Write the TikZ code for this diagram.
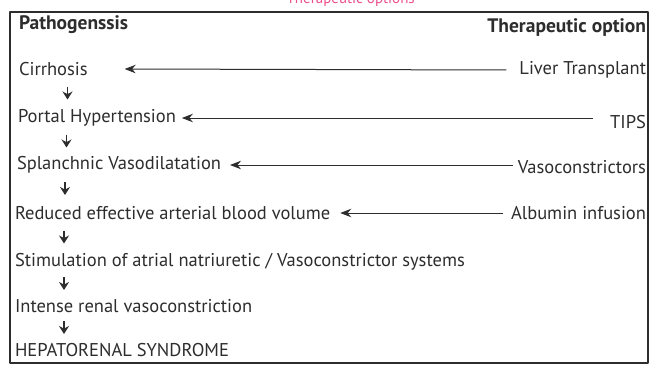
\documentclass[tikz,border=0pt]{standalone}
\usepackage{fontspec}
\setmainfont{PT Sans}
\usetikzlibrary{arrows.meta,calc}
\begin{document}
\begin{tikzpicture}[x=1pt,y=1pt,
  txt/.style={text=drawColor,anchor=west,inner sep=0pt,outer sep=0pt,font=\fontsize{18.5}{22}\selectfont},
  opt/.style={txt,anchor=east},
  head/.style={font=\fontsize{19.5}{22}\selectfont\bfseries},
  down/.style={draw=drawColor,line width=1.1pt,-{Stealth[length=8pt,width=10pt]}},
  back/.style={draw=drawColor,line width=1pt,-{Stealth[length=11pt,width=8.5pt]}}]
\definecolor{fillColor}{RGB}{255,255,255}
\definecolor{drawColor}{RGB}{45,45,45}
\definecolor{pinkColor}{RGB}{236,80,140}
\path[use as bounding box,fill=fillColor] (0,0) rectangle (655,373);
\begin{scope}
\path[clip] (  0.00,  0.00) rectangle (655,373);

\node[text=pinkColor,anchor=base east,inner sep=0pt,font=\fontsize{15}{18}\selectfont] (cap) at (415,369) {Therapeutic options};

\path[draw=drawColor,line width= 1.2pt,line join=round] ( 10.00, 10.00) rectangle (648.00,361.00);

\node[txt,head] (path) at ( 19,348) {Pathogenssis};
\node[opt,head] (ther) at (646,345) {Therapeutic option};

\node[txt] (cir)  at ( 19,304) {Cirrhosis};
\node[txt] (port) at ( 18,255) {Portal Hypertension};
\node[txt] (spl)  at ( 17,208) {Splanchnic Vasodilatation};
\node[txt] (red)  at ( 15,160) {Reduced effective arterial blood volume};
\node[txt] (stim) at ( 15,111) {Stimulation of atrial natriuretic / Vasoconstrictor systems};
\node[txt] (int)  at ( 15, 67) {Intense renal vasoconstriction};
\node[txt] (hrs)  at ( 15, 23) {HEPATORENAL SYNDROME};

\node[opt] (lt)   at (646,303) {Liver Transplant};
\node[opt] (tips) at (646,251) {TIPS};
\node[opt] (vaso) at (646,206) {Vasoconstrictors};
\node[opt] (alb)  at (646,160) {Albumin infusion};
\end{scope}

% short arrows down the left column
\foreach \a/\b in {cir/port,port/spl,spl/red,red/stim,stim/int,int/hrs}
  \path[down] ($(\a.west)!0.5!(\b.west)+(49,7)$) -- ($(\a.west)!0.5!(\b.west)+(49,-6)$);

% therapies pointing back to the step they act on
\path[back] ([xshift=-13]lt.west) -- ([xshift=37]cir.east);
\path[back] ([xshift=-17]tips.west |- port.east) -- ([xshift=6]port.east);
\path[back] ([xshift=-5]vaso.west |- spl.east) -- ([xshift=9]spl.east);
\path[back] ([xshift=-8]alb.west) -- ([xshift=10]red.east);
\end{tikzpicture}
\end{document}
